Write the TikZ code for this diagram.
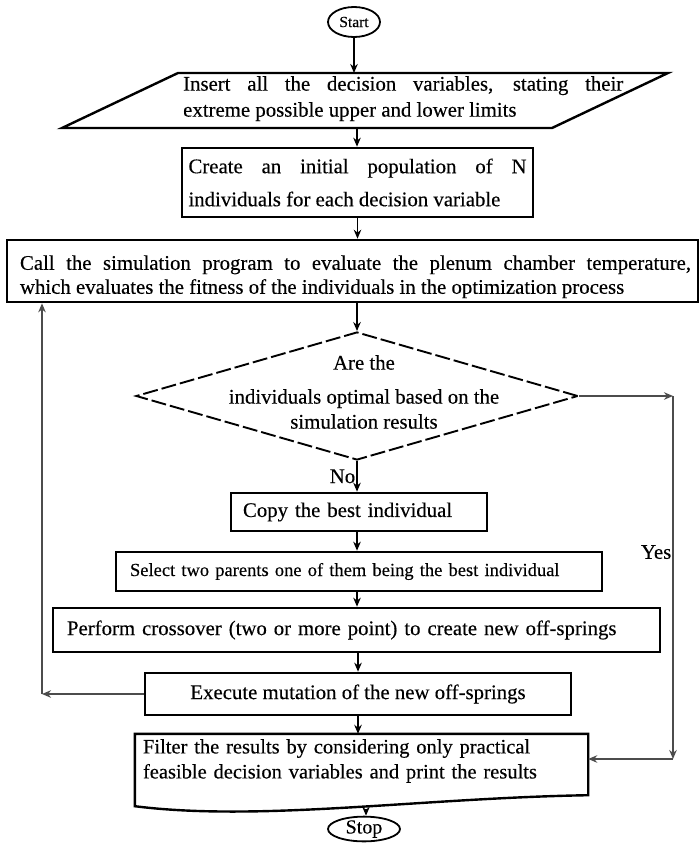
\documentclass[tikz,border=0pt]{standalone}
\usepackage{fontspec}
\setmainfont{Liberation Serif}[FakeBold=0.3]
\usetikzlibrary{arrows.meta,shapes.geometric,calc}
\newcommand\fsz[2]{\fontsize{#1}{#2}\selectfont}
\begin{document}
\begin{tikzpicture}[x=1pt,y=-1pt,
  box/.style={draw, line width=2.6pt, rectangle, inner ysep=0pt},
  conn/.style={line width=1.6pt, -{Stealth[length=9pt,width=7.5pt]}},
  loopline/.style={line width=1.4pt, draw=black!70, -{Stealth[length=9pt,width=7.5pt]}},
  txt/.style={font=\fsz{20.8}{24}},
  terminal/.style={draw, ellipse, line width=1.8pt, inner sep=0pt}
]
\useasboundingbox (0,0) rectangle (700,846);

% Start
\node[terminal, minimum width=52pt, minimum height=30pt, font=\fsz{15.5}{18}] (start) at (354,22) {Start};

% Input parallelogram
\draw[line width=2.4pt] (178,73) -- (668,73) -- (552,128) -- (62,128) -- cycle;
\coordinate (paratop) at (357,73);
\coordinate (parabot) at (357,128);
\node[font=\fsz{20.8}{26}, text width=440pt, align=justify, inner sep=0pt, anchor=north west] (para) at (183,76)
  {Insert all the decision variables, stating their\linebreak extreme possible upper and lower limits};

% Box 2
\node[box, font=\fsz{20.8}{33}, minimum width=351pt, minimum height=69pt, text width=338pt, inner xsep=6.5pt, align=justify] (b2) at (357.5,182.5)
  {Create an initial population of N\linebreak individuals for each decision variable};

% Box 3
\node[box, txt, minimum width=691pt, minimum height=62pt, text width=677pt, inner xsep=7pt, align=justify] (b3) at (352.5,271)
  {\rule{0pt}{26pt}\hspace*{6pt}Call the simulation program to evaluate the plenum chamber temperature,\linebreak \hspace*{6pt}which evaluates the fitness of the individuals in the optimization process};

% Decision
\node[draw, diamond, line width=1.9pt, dash pattern=on 15pt off 4pt, minimum width=442pt, minimum height=128pt, inner sep=0pt] (dia) at (357,396) {};
\node[font=\fsz{20.8}{25}, align=center] (qtext) at (364,392)
  {Are the\\[9pt]individuals optimal based on the\\simulation results};

% Process boxes
\node[box, txt, minimum width=256pt, minimum height=38pt, text width=232pt, inner xsep=12pt, align=left] (b4) at (359,512) {Copy the best individual};
\node[box, font=\fsz{18.5}{22}, minimum width=486pt, minimum height=39pt, text width=458pt, inner xsep=14pt, align=left] (b5) at (359,571.5) {Select two parents one of them being the best individual};
\node[box, txt, minimum width=607pt, minimum height=44pt, text width=579pt, inner xsep=14pt, align=left] (b6) at (356.5,630) {Perform crossover (two or more point) to create new off-springs};
\node[box, txt, minimum width=426pt, minimum height=42pt, align=center] (b7) at (358,694) {Execute mutation of the new off-springs};

% Output (document shape)
\node[font=\fsz{20.5}{25}, minimum width=453pt, minimum height=54pt, text width=437pt, inner xsep=8pt, inner ysep=0pt, align=left] (filter) at (361.5,761)
  {Filter the results by considering only practical\\feasible decision variables and print the results};
\draw[line width=2.4pt] (filter.north west) -- (filter.north east) -- ($(filter.south east)+(0,7)$)
  .. controls (420,798) and (260,822) .. ($(filter.south west)+(0,18)$) -- cycle;
\coordinate (fbot) at (366,808.5);

% Stop
\node[terminal, minimum width=72pt, minimum height=22pt, font=\fsz{20}{20}] (stop) at (364,829) {Stop};

% Main connectors
\draw[conn] (start.south) -- (start.south |- paratop);
\draw[conn] (parabot) -- (parabot |- b2.north);
\draw[conn] (b2.south) -- (b2.south |- b3.north);
\draw[conn] (b3.south -| dia.north) -- (dia.north);
\draw[conn] (dia.south) -- node[txt, left, inner sep=1pt] {No} (dia.south |- b4.north);
\draw[conn] (b4.south -| dia.south) -- (dia.south |- b5.north);
\draw[conn] (b5.south -| dia.south) -- (dia.south |- b6.north);
\draw[conn] (b6.south -| b7.north) -- (b7.north);
\draw[conn] (b7.south) -- (b7.south |- filter.north);
\draw[conn] (fbot) -- (fbot |- stop.north);

% Loop back
\coordinate (lc) at (42,694);
\draw[loopline] (b7.west) -- (lc);
\draw[loopline] (lc) -- (lc |- b3.south);

% Yes branch
\coordinate (yc1) at (673,396);
\coordinate (yc2) at (673,759);
\draw[loopline] (dia.east) -- (yc1);
\draw[loopline] (yc1) -- node[txt, pos=0.43, left, inner sep=1pt] {Yes} (yc2);
\draw[loopline] (yc2) -- (filter.east |- yc2);
\end{tikzpicture}
\end{document}
